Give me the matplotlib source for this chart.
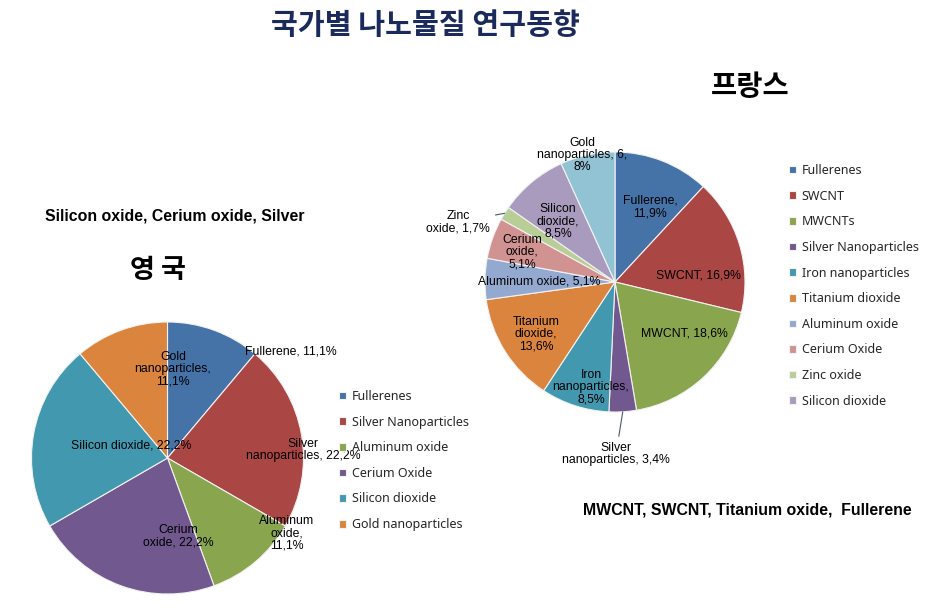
import matplotlib.pyplot as plt
import numpy as np

plt.rcParams['font.family'] = ['Liberation Sans', 'Noto Sans CJK KR', 'DejaVu Sans']

W, H = 951, 608


def px(x, y):
    # reference pixel position (y measured downward) -> data coords
    return x, H - y


# UK data
uk_names = ['Fullerenes', 'Silver Nanoparticles', 'Aluminum oxide',
            'Cerium Oxide', 'Silicon dioxide', 'Gold nanoparticles']
uk_values = [11.1, 22.2, 11.1, 22.2, 22.2, 11.1]
uk_texts = ['Fullerene, 11,1%', 'Silver\nnanoparticles, 22,2%',
            'Aluminum\noxide,\n11,1%', 'Cerium\noxide, 22,2%',
            'Silicon dioxide, 22,2%', 'Gold\nnanoparticles,\n11,1%']

# France data
fr_names = ['Fullerenes', 'SWCNT', 'MWCNTs', 'Silver Nanoparticles',
            'Iron nanoparticles', 'Titanium dioxide', 'Aluminum oxide',
            'Cerium Oxide', 'Zinc oxide', 'Silicon dioxide', 'Gold nanoparticles']
fr_values = [11.9, 16.9, 18.6, 3.4, 8.5, 13.6, 5.1, 5.1, 1.7, 8.5, 6.8]
fr_texts = ['Fullerene,\n11,9%', 'SWCNT, 16,9%', 'MWCNT, 18,6%',
            'Silver\nnanoparticles, 3,4%', 'Iron\nnanoparticles,\n8,5%',
            'Titanium\ndioxide,\n13,6%', 'Aluminum oxide, 5,1%',
            'Cerium\noxide,\n5,1%', 'Zinc\noxide, 1,7%',
            'Silicon\ndioxide,\n8,5%', 'Gold\nnanoparticles, 6,\n8%']

palette = ['#4572A7', '#AA4643', '#89A54E', '#71588F', '#4198AF', '#DB843D',
           '#93A9CF', '#D19392', '#B9CD96', '#A99BBD', '#92C3D5']

fig = plt.figure(figsize=(W / 100, H / 100), dpi=100)
ax = fig.add_axes([0, 0, 1, 1])

wp = dict(edgecolor='#f2f2f2', linewidth=0.8)

# UK pie
uk_wedges, _ = ax.pie(uk_values, colors=palette[:6], startangle=90, counterclock=False,
                      center=px(167.5, 458), radius=136, wedgeprops=wp)

# France pie
fr_center = px(615, 282)
fr_radius = 130
fr_wedges, _ = ax.pie(fr_values, colors=palette, startangle=90, counterclock=False,
                      center=fr_center, radius=fr_radius, wedgeprops=wp)

ax.set_xlim(0, W)
ax.set_ylim(0, H)
ax.set_aspect('equal')
ax.axis('off')

lab_kw = dict(fontsize=8.8, ha='center', va='center', color='black',
              linespacing=1.05, family=['Liberation Sans', 'DejaVu Sans'])

uk_pos = [(291, 352), (303, 450), (287, 533), (178, 536), (131, 446), (173, 369)]
for t, p in zip(uk_texts, uk_pos):
    ax.text(*px(*p), t, **lab_kw)

fr_pos = [(650, 207), (698, 275), (684, 333), (616, 454), (591, 387),
          (536, 334), (539, 282), (522, 252), (458, 222), (558, 221), (582, 155)]
for i, (t, p) in enumerate(zip(fr_texts, fr_pos)):
    if i in (3, 8):
        w = fr_wedges[i]
        mid = np.deg2rad((w.theta1 + w.theta2) / 2)
        tip = (fr_center[0] + fr_radius * np.cos(mid), fr_center[1] + fr_radius * np.sin(mid))
        ax.annotate(t, xy=tip, xytext=px(*p), arrowprops=dict(arrowstyle='-', color='#4a5a6a',
                    lw=0.8, shrinkA=2, shrinkB=0), **lab_kw)
    else:
        ax.text(*px(*p), t, **lab_kw)

leg_kw = dict(frameon=False, loc='upper left', borderpad=0, borderaxespad=0,
              handlelength=0.56, handleheight=0.56, handletextpad=0.45,
              labelspacing=1.01, bbox_transform=ax.transData,
              prop=dict(family='Noto Sans', size=9), labelcolor='#262626')
leg1 = ax.legend(uk_wedges, uk_names, bbox_to_anchor=px(339, 390), **leg_kw)
ax.add_artist(leg1)
ax.legend(fr_wedges[:10], fr_names[:10], bbox_to_anchor=px(789, 164), **leg_kw)

# titles and notes
ax.text(*px(425, 25), '국가별 나노물질 연구동향', fontsize=21, fontweight='bold',
        color='#1B2A5C', ha='center', va='center', family=['Noto Sans CJK KR'])
ax.text(*px(750, 87), '프랑스', fontsize=20.5, fontweight='bold', color='black',
        ha='center', va='center', family=['Noto Sans CJK KR'])
ax.text(*px(158, 270), '영 국', fontsize=19.5, fontweight='bold', color='black',
        ha='center', va='center', family=['Noto Sans CJK KR'])
ax.text(*px(175, 216), 'Silicon oxide, Cerium oxide, Silver', fontsize=11.4,
        fontweight='bold', ha='center', va='center')
ax.text(*px(747, 510), 'MWCNT, SWCNT, Titanium oxide,  Fullerene', fontsize=11.4,
        fontweight='bold', ha='center', va='center')

fig.savefig('out.png', dpi=100)
